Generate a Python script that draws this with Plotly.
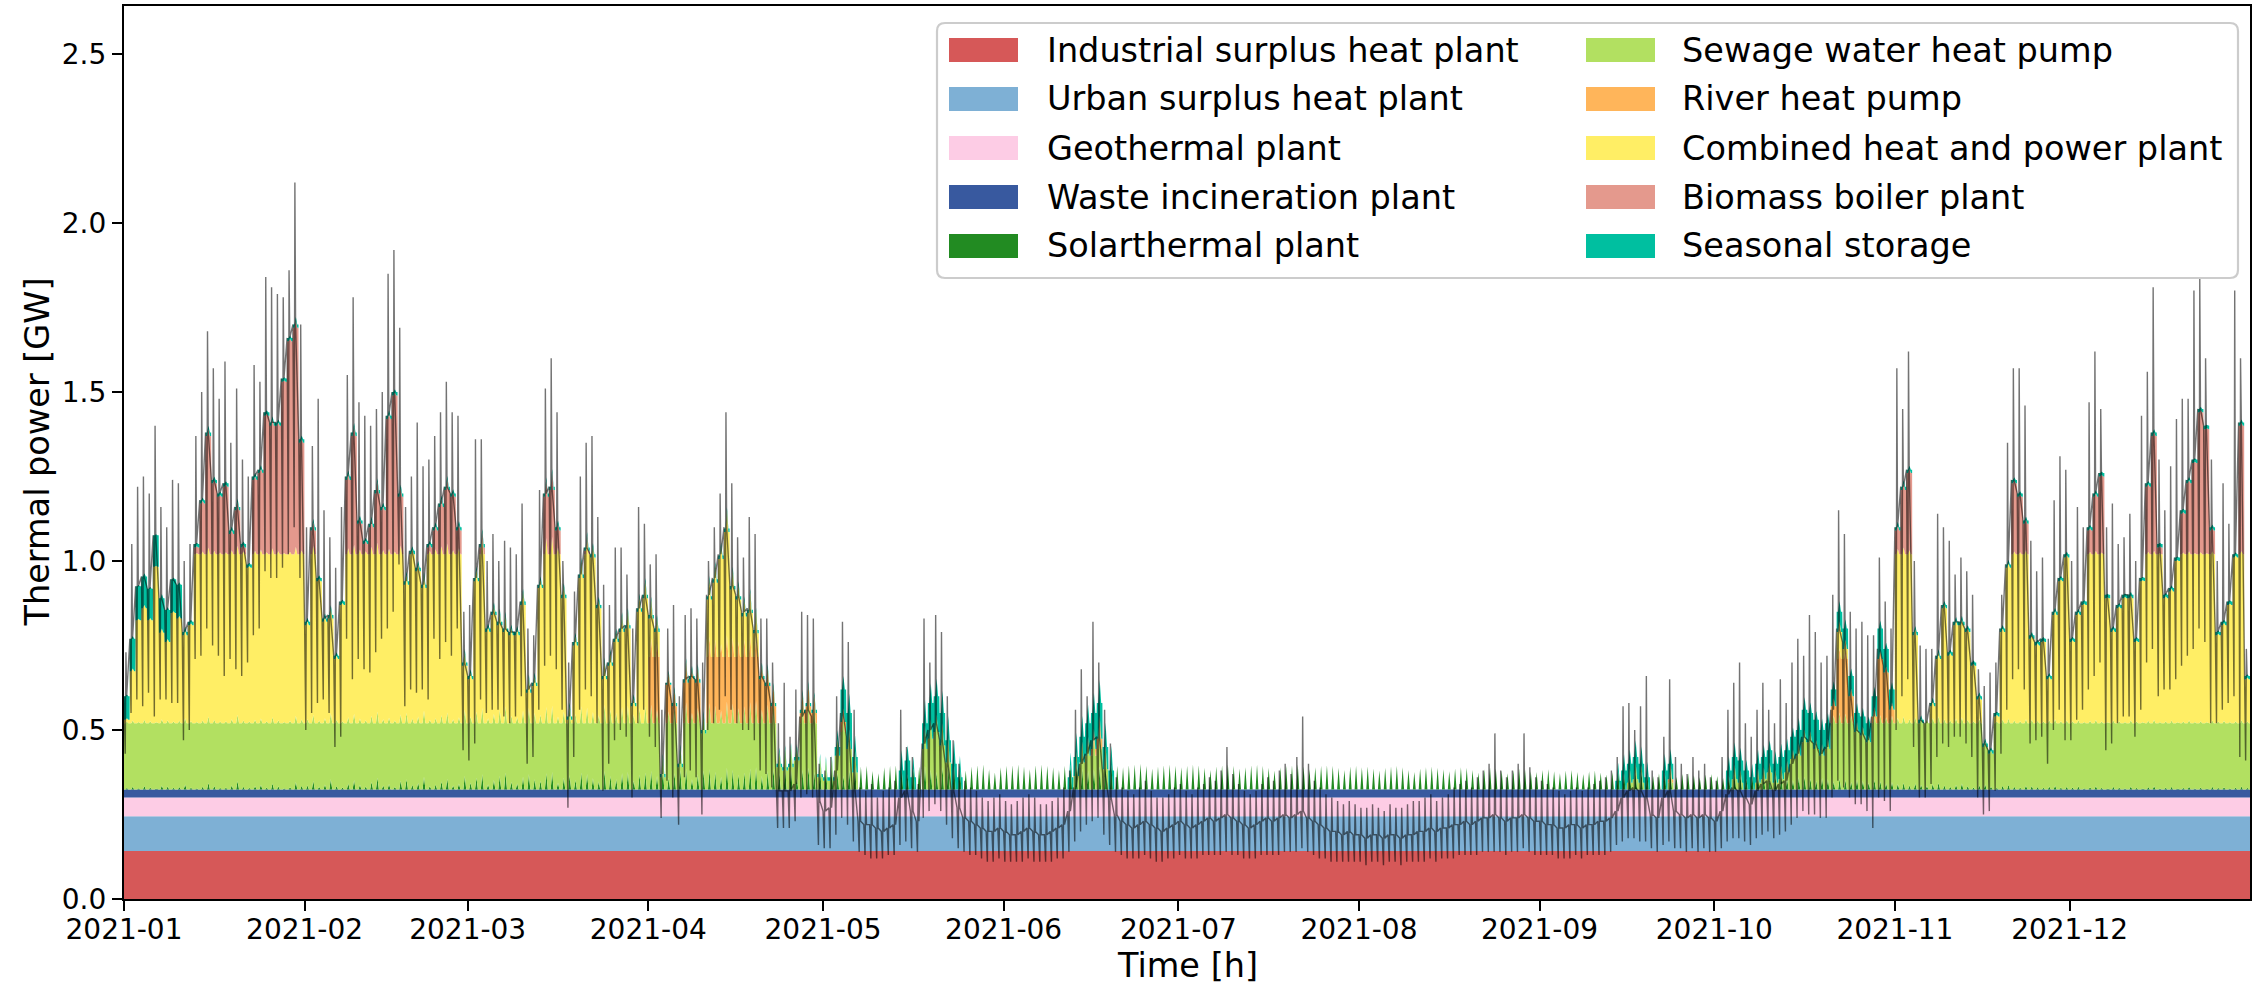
import numpy as np
import pandas as pd
import plotly.graph_objects as go

# ---------------------------------------------------------------------------
# Heat supply of the district heating system, 2021 (values in MW).
# Daily lists run from 1 January to 31 December (365 entries, one row per month).
# ---------------------------------------------------------------------------

# must-run units with a flat output all year
industrial_mw = 142
urban_mw = 103
geothermal_mw = 55
waste_mw = 24

# solarthermal output at solar noon
solar_noon_mw = [
    5, 8, 4, 10, 6, 3, 12, 9, 5, 7, 15, 6, 4, 8, 20, 10, 5, 6, 12, 25, 8, 5, 10, 14, 6, 18, 9, 4, 7, 22, 11,
    12, 25, 8, 15, 30, 10, 6, 18, 28, 14, 9, 22, 35, 12, 16, 8, 26, 30, 14, 20, 38, 10, 15, 24, 32, 12, 18, 40,
    20, 35, 45, 15, 28, 40, 50, 22, 18, 38, 45, 30, 25, 48, 52, 20, 35, 42, 28, 50, 46, 33, 24, 55, 40, 30, 48, 52, 26, 44, 50,
    55, 40, 60, 35, 48, 58, 62, 30, 45, 56, 60, 52, 38, 64, 58, 44, 50, 62, 66, 40, 55, 60, 48, 65, 62, 36, 58, 64, 52, 60,
    62, 66, 50, 40, 58, 64, 68, 70, 55, 48, 66, 70, 72, 60, 45, 62, 68, 70, 58, 52, 66, 72, 70, 64, 56, 68, 72, 74, 60, 50, 66,
    70, 72, 74, 68, 60, 72, 74, 70, 66, 58, 70, 74, 72, 62, 55, 60, 68, 72, 74, 70, 66, 72, 74, 76, 70, 62, 68, 72, 74, 70,
    66, 70, 74, 72, 64, 58, 68, 72, 74, 70, 62, 66, 72, 74, 70, 64, 56, 66, 70, 72, 74, 68, 60, 66, 70, 72, 70, 64, 58, 68, 70,
    66, 68, 62, 56, 64, 68, 70, 66, 58, 52, 62, 66, 68, 64, 60, 54, 62, 66, 64, 58, 50, 60, 64, 62, 56, 48, 58, 62, 60, 54, 52,
    58, 60, 54, 48, 56, 58, 52, 46, 54, 56, 50, 44, 52, 54, 48, 42, 50, 52, 46, 40, 48, 50, 44, 38, 46, 48, 42, 36, 44, 46,
    40, 34, 42, 44, 38, 32, 40, 42, 36, 30, 38, 40, 34, 28, 36, 38, 32, 26, 34, 30, 24, 32, 28, 22, 30, 26, 20, 28, 24, 18, 22,
    16, 20, 12, 18, 14, 10, 16, 20, 12, 8, 14, 18, 10, 6, 12, 15, 9, 5, 11, 14, 8, 6, 12, 10, 7, 5, 9, 12, 6, 8,
    6, 9, 4, 7, 10, 5, 3, 8, 6, 4, 9, 5, 3, 7, 10, 4, 6, 8, 3, 5, 9, 4, 6, 3, 8, 5, 7, 4, 6, 9, 5,
]

sewage_mw = [
    196, 196, 196, 196, 196, 196, 196, 196, 196, 196, 196, 196, 196, 196, 196, 196, 196, 196, 196, 196, 196, 196, 196, 196, 196, 196, 196, 196, 196, 196, 196,
    196, 196, 196, 196, 196, 196, 196, 196, 196, 196, 196, 196, 196, 196, 196, 196, 196, 196, 196, 196, 196, 196, 196, 196, 196, 196, 196, 196,
    196, 196, 196, 196, 196, 196, 196, 196, 196, 196, 196, 196, 196, 196, 196, 196, 196, 196, 196, 196, 196, 196, 196, 196, 196, 196, 196, 196, 196, 196, 196,
    196, 196, 36, 196, 196, 66, 196, 196, 196, 166, 196, 196, 196, 196, 196, 196, 196, 196, 196, 196, 196, 196, 66, 56, 66, 86, 196, 196, 196, 36,
    26, 26, 100, 170, 120, 50, 0, 0, 0, 0, 0, 0, 0, 0, 0, 0, 0, 120, 150, 170, 130, 80, 0, 0, 0, 0, 0, 0, 0, 0, 0,
    0, 0, 0, 0, 0, 0, 0, 0, 0, 0, 0, 0, 40, 80, 100, 100, 120, 60, 0, 0, 0, 0, 0, 0, 0, 0, 0, 0, 0, 0,
    0, 0, 0, 0, 0, 0, 0, 0, 0, 0, 0, 0, 0, 0, 0, 0, 0, 0, 0, 0, 0, 0, 0, 0, 0, 0, 0, 0, 0, 0, 0,
    0, 0, 0, 0, 0, 0, 0, 0, 0, 0, 0, 0, 0, 0, 0, 0, 0, 0, 0, 0, 0, 0, 0, 0, 0, 0, 0, 0, 0, 0, 0,
    0, 0, 0, 0, 0, 0, 0, 0, 0, 0, 0, 0, 0, 0, 0, 20, 30, 20, 0, 0, 0, 0, 20, 0, 0, 0, 0, 0, 0, 0,
    0, 0, 0, 30, 20, 0, 0, 20, 30, 50, 20, 30, 50, 90, 100, 140, 140, 120, 100, 120, 196, 196, 196, 196, 170, 160, 140, 196, 196, 196, 196,
    196, 196, 196, 196, 196, 196, 196, 196, 196, 196, 196, 196, 196, 196, 196, 126, 106, 196, 196, 196, 196, 196, 196, 196, 196, 196, 196, 196, 196, 196,
    196, 196, 196, 196, 196, 196, 196, 196, 196, 196, 196, 196, 196, 196, 196, 196, 196, 196, 196, 196, 196, 196, 196, 196, 196, 196, 196, 196, 196, 196, 196,
]

river_mw = [
    0, 0, 0, 0, 0, 0, 0, 0, 0, 0, 0, 0, 0, 0, 0, 0, 0, 0, 0, 0, 0, 0, 0, 0, 0, 0, 0, 0, 0, 0, 0,
    0, 0, 0, 0, 0, 0, 0, 0, 0, 0, 0, 0, 0, 0, 0, 0, 0, 0, 0, 0, 0, 0, 0, 0, 0, 0, 0, 0,
    0, 0, 0, 0, 0, 0, 0, 0, 0, 0, 0, 0, 0, 0, 0, 0, 0, 0, 0, 0, 0, 0, 0, 0, 0, 0, 0, 0, 0, 0, 0,
    196, 196, 0, 114, 50, 0, 120, 130, 120, 0, 196, 196, 196, 196, 196, 196, 196, 196, 196, 130, 110, 50, 0, 0, 0, 0, 30, 50, 30, 0,
    0, 0, 0, 30, 0, 0, 0, 0, 0, 0, 0, 0, 0, 0, 0, 0, 0, 0, 0, 0, 0, 0, 0, 0, 0, 0, 0, 0, 0, 0, 0,
    0, 0, 0, 0, 0, 0, 0, 0, 0, 0, 0, 0, 0, 0, 0, 20, 30, 0, 0, 0, 0, 0, 0, 0, 0, 0, 0, 0, 0, 0,
    0, 0, 0, 0, 0, 0, 0, 0, 0, 0, 0, 0, 0, 0, 0, 0, 0, 0, 0, 0, 0, 0, 0, 0, 0, 0, 0, 0, 0, 0, 0,
    0, 0, 0, 0, 0, 0, 0, 0, 0, 0, 0, 0, 0, 0, 0, 0, 0, 0, 0, 0, 0, 0, 0, 0, 0, 0, 0, 0, 0, 0, 0,
    0, 0, 0, 0, 0, 0, 0, 0, 0, 0, 0, 0, 0, 0, 0, 0, 0, 0, 0, 0, 0, 0, 10, 0, 0, 0, 0, 0, 0, 0,
    0, 0, 0, 0, 0, 0, 0, 0, 0, 0, 0, 0, 0, 0, 0, 0, 0, 0, 0, 0, 50, 190, 190, 80, 0, 0, 0, 20, 190, 150, 40,
    0, 0, 0, 0, 0, 0, 0, 0, 0, 0, 0, 0, 0, 0, 0, 0, 0, 0, 0, 0, 0, 0, 0, 0, 0, 0, 0, 0, 0, 0,
    0, 0, 0, 0, 0, 0, 0, 0, 0, 0, 0, 0, 0, 0, 0, 0, 0, 0, 0, 0, 0, 0, 0, 0, 0, 0, 0, 0, 0, 0, 0,
]

chp_mw = [
    10, 154, 305, 340, 305, 463, 268, 240, 326, 310, 260, 290, 500, 500, 500, 500, 500, 500, 500, 500, 500, 460, 500, 500, 500, 500, 500, 500, 500, 500, 500,
    290, 500, 420, 300, 310, 190, 350, 500, 500, 500, 500, 500, 500, 500, 500, 500, 500, 410, 500, 450, 400, 500, 500, 500, 500, 500, 500, 170,
    130, 420, 500, 270, 320, 290, 270, 260, 260, 350, 90, 110, 400, 500, 500, 500, 370, 10, 230, 430, 500, 490, 340, 130, 170, 240, 270, 280, 50, 330, 370,
    114, 74, 0, 0, 0, 0, 0, 0, 0, 0, 170, 220, 290, 370, 200, 170, 120, 130, 70, 0, 0, 0, 0, 0, 0, 0, 0, 0, 0, 0,
    0, 0, 0, 0, 0, 0, 0, 0, 0, 0, 0, 0, 0, 0, 0, 0, 0, 0, 0, 0, 0, 0, 0, 0, 0, 0, 0, 0, 0, 0, 0,
    0, 0, 0, 0, 0, 0, 0, 0, 0, 0, 0, 0, 0, 0, 0, 0, 0, 0, 0, 0, 0, 0, 0, 0, 0, 0, 0, 0, 0, 0,
    0, 0, 0, 0, 0, 0, 0, 0, 0, 0, 0, 0, 0, 0, 0, 0, 0, 0, 0, 0, 0, 0, 0, 0, 0, 0, 0, 0, 0, 0, 0,
    0, 0, 0, 0, 0, 0, 0, 0, 0, 0, 0, 0, 0, 0, 0, 0, 0, 0, 0, 0, 0, 0, 0, 0, 0, 0, 0, 0, 0, 0, 0,
    0, 0, 0, 0, 0, 0, 0, 0, 0, 0, 0, 0, 0, 0, 0, 0, 0, 0, 0, 0, 0, 0, 0, 0, 0, 0, 0, 0, 0, 0,
    0, 0, 0, 0, 0, 0, 0, 0, 0, 0, 0, 0, 0, 0, 0, 0, 0, 0, 0, 0, 0, 80, 30, 0, 0, 0, 0, 0, 0, 0, 0,
    500, 500, 500, 260, 0, 0, 50, 190, 340, 200, 290, 290, 270, 170, 70, 0, 0, 20, 270, 460, 500, 500, 500, 250, 230, 240, 130, 320, 420, 490,
    240, 320, 350, 500, 500, 500, 370, 270, 340, 370, 370, 240, 420, 500, 500, 500, 370, 390, 480, 500, 500, 500, 500, 500, 500, 260, 290, 350, 490, 500, 130,
]

biomass_mw = [
    0, 0, 0, 0, 0, 0, 0, 0, 0, 0, 0, 0, 20, 150, 350, 210, 170, 200, 60, 130, 20, 0, 220, 240, 410, 380, 380, 510, 630, 670, 330,
    0, 70, 0, 0, 0, 0, 0, 220, 350, 90, 30, 80, 180, 130, 400, 470, 170, 0, 0, 0, 0, 20, 70, 140, 190, 170, 70, 0,
    0, 0, 20, 0, 0, 0, 0, 0, 0, 0, 0, 0, 0, 170, 190, 70, 0, 0, 0, 0, 10, 0, 0, 0, 0, 0, 0, 0, 0, 0, 0,
    0, 0, 0, 0, 0, 0, 0, 0, 0, 0, 0, 0, 0, 0, 0, 0, 0, 0, 0, 0, 0, 0, 0, 0, 0, 0, 0, 0, 0, 0,
    0, 0, 0, 0, 0, 0, 0, 0, 0, 0, 0, 0, 0, 0, 0, 0, 0, 0, 0, 0, 0, 0, 0, 0, 0, 0, 0, 0, 0, 0, 0,
    0, 0, 0, 0, 0, 0, 0, 0, 0, 0, 0, 0, 0, 0, 0, 0, 0, 0, 0, 0, 0, 0, 0, 0, 0, 0, 0, 0, 0, 0,
    0, 0, 0, 0, 0, 0, 0, 0, 0, 0, 0, 0, 0, 0, 0, 0, 0, 0, 0, 0, 0, 0, 0, 0, 0, 0, 0, 0, 0, 0, 0,
    0, 0, 0, 0, 0, 0, 0, 0, 0, 0, 0, 0, 0, 0, 0, 0, 0, 0, 0, 0, 0, 0, 0, 0, 0, 0, 0, 0, 0, 0, 0,
    0, 0, 0, 0, 0, 0, 0, 0, 0, 0, 0, 0, 0, 0, 0, 0, 0, 0, 0, 0, 0, 0, 0, 0, 0, 0, 0, 0, 0, 0,
    0, 0, 0, 0, 0, 0, 0, 0, 0, 0, 0, 0, 0, 0, 0, 0, 0, 0, 0, 0, 0, 0, 0, 0, 0, 0, 0, 0, 0, 0, 0,
    70, 190, 240, 0, 0, 0, 0, 0, 0, 0, 0, 0, 0, 0, 0, 0, 0, 0, 0, 0, 210, 170, 90, 0, 0, 0, 0, 0, 0, 0,
    0, 0, 0, 70, 170, 230, 0, 0, 0, 0, 0, 0, 0, 200, 350, 20, 0, 0, 0, 120, 210, 270, 420, 370, 70, 0, 0, 0, 0, 380, 0,
]

storage_mw = [
    70, 96, 100, 94, 93, 93, 102, 95, 100, 100, 10, 10, 10, 10, 10, 10, 10, 10, 10, 10, 10, 10, 10, 10, 10, 10, 10, 10, 10, 10, 10,
    10, 10, 10, 10, 10, 10, 10, 10, 10, 10, 10, 10, 10, 10, 10, 10, 10, 10, 10, 10, 10, 10, 10, 10, 10, 10, 10, 10,
    10, 10, 10, 10, 10, 10, 10, 10, 10, 10, 10, 10, 10, 10, 10, 10, 10, 10, 10, 10, 10, 10, 10, 10, 10, 10, 10, 10, 10, 10, 10,
    10, 10, 10, 6, 10, 10, 10, 10, 10, 10, 10, 10, 10, 10, 10, 10, 10, 10, 10, 10, 10, 10, 10, 10, 10, 10, 10, 10, 10, 10,
    10, 10, 26, 96, 106, 46, 0, 0, 0, 0, 0, 0, 0, 56, 86, 36, 0, 76, 106, 106, 96, 66, 76, 36, 0, 0, 0, 0, 0, 0, 0,
    0, 0, 0, 0, 0, 0, 0, 0, 0, 0, 0, 36, 56, 76, 96, 106, 106, 66, 56, 0, 0, 0, 0, 0, 0, 0, 0, 0, 0, 0,
    0, 0, 0, 0, 0, 0, 0, 0, 0, 0, 0, 0, 0, 0, 0, 0, 0, 0, 0, 0, 0, 0, 0, 0, 0, 0, 0, 0, 0, 0, 0,
    0, 0, 0, 0, 0, 0, 0, 0, 0, 0, 0, 0, 0, 0, 0, 0, 0, 0, 0, 0, 0, 0, 0, 0, 0, 0, 0, 0, 0, 0, 0,
    0, 0, 0, 0, 0, 0, 0, 0, 0, 0, 0, 0, 0, 26, 56, 56, 66, 56, 36, 0, 0, 56, 46, 0, 0, 0, 0, 0, 0, 0,
    0, 0, 56, 66, 66, 56, 36, 56, 66, 66, 56, 66, 66, 66, 76, 96, 86, 86, 76, 76, 50, 60, 60, 60, 56, 56, 56, 60, 90, 70, 60,
    10, 10, 10, 10, 10, 0, 10, 10, 10, 10, 10, 10, 10, 10, 10, 10, 10, 10, 10, 10, 10, 10, 10, 10, 10, 10, 10, 10, 10, 10,
    10, 10, 10, 10, 10, 10, 10, 10, 10, 10, 10, 10, 10, 10, 10, 10, 10, 10, 10, 10, 10, 10, 10, 10, 10, 10, 10, 10, 10, 10, 10,
]

# heat demand: typical level of the day, daily peak and daily trough
demand_mid_mw = [
    600, 770, 925, 954, 918, 1076, 890, 855, 946, 930, 790, 820, 1050, 1180, 1380, 1240, 1200, 1230, 1090, 1160, 1050, 990, 1250, 1270, 1440, 1410, 1410, 1540, 1660, 1700, 1360,
    820, 1100, 950, 830, 840, 720, 880, 1250, 1380, 1120, 1060, 1110, 1210, 1160, 1430, 1500, 1200, 940, 1030, 980, 930, 1050, 1100, 1170, 1220, 1200, 1100, 700,
    660, 950, 1050, 800, 850, 820, 800, 790, 790, 880, 620, 640, 930, 1200, 1220, 1100, 900, 540, 760, 960, 1040, 1020, 870, 660, 700, 770, 800, 810, 580, 860, 900,
    840, 800, 370, 640, 580, 400, 650, 660, 650, 500, 900, 950, 1020, 1100, 930, 900, 850, 860, 800, 660, 640, 580, 320, 320, 320, 340, 540, 560, 540, 290,
    260, 270, 380, 550, 480, 330, 230, 220, 220, 210, 200, 210, 220, 300, 320, 260, 230, 460, 500, 520, 470, 400, 320, 270, 240, 230, 220, 210, 200, 200, 210,
    200, 190, 190, 200, 210, 200, 190, 190, 200, 210, 220, 260, 330, 400, 430, 470, 480, 370, 300, 250, 230, 220, 210, 220, 230, 220, 210, 200, 210, 220,
    230, 220, 210, 220, 230, 240, 230, 240, 250, 240, 230, 220, 210, 220, 230, 240, 230, 240, 250, 240, 250, 260, 240, 230, 220, 210, 200, 200, 190, 200, 190,
    190, 180, 190, 190, 180, 190, 190, 180, 190, 190, 200, 200, 210, 200, 210, 210, 220, 220, 230, 220, 230, 240, 240, 250, 240, 230, 240, 240, 250, 240, 230,
    230, 220, 220, 210, 210, 220, 220, 210, 220, 220, 230, 230, 240, 260, 300, 320, 330, 320, 300, 250, 240, 300, 320, 260, 250, 240, 250, 240, 250, 240,
    230, 260, 310, 330, 320, 300, 280, 320, 340, 350, 320, 340, 350, 400, 430, 480, 470, 460, 430, 450, 560, 800, 760, 600, 500, 490, 470, 540, 740, 690, 570,
    1100, 1220, 1270, 790, 530, 520, 580, 720, 870, 730, 820, 820, 800, 700, 600, 460, 440, 550, 800, 990, 1240, 1200, 1120, 780, 760, 770, 660, 850, 950, 1020,
    770, 850, 880, 1100, 1200, 1260, 900, 800, 870, 900, 900, 770, 950, 1230, 1380, 1050, 900, 920, 1010, 1150, 1240, 1300, 1450, 1400, 1100, 790, 820, 880, 1020, 1410, 660,
]

demand_high_mw = [
    730, 1050, 1220, 1250, 1200, 1400, 1160, 1100, 1240, 1230, 1000, 1050, 1370, 1500, 1680, 1570, 1480, 1590, 1350, 1510, 1300, 1250, 1580, 1530, 1840, 1810, 1790, 1780, 1860, 2120, 1700,
    1100, 1340, 1480, 1150, 1070, 980, 1160, 1550, 1780, 1470, 1430, 1400, 1450, 1500, 1850, 1920, 1690, 1160, 1250, 1410, 1280, 1300, 1370, 1440, 1530, 1440, 1430, 850,
    870, 1360, 1360, 1000, 1080, 1000, 1060, 1040, 1020, 1170, 800, 780, 1210, 1510, 1600, 1440, 1000, 700, 910, 1250, 1350, 1370, 1130, 930, 870, 1040, 1040, 960, 800, 1160, 1110,
    990, 1020, 560, 800, 870, 600, 840, 860, 830, 700, 1000, 1100, 1200, 1440, 1230, 1070, 1010, 1130, 1080, 830, 830, 700, 520, 640, 480, 620, 850, 840, 830, 400,
    380, 420, 600, 820, 760, 560, 330, 320, 340, 300, 320, 330, 350, 560, 450, 420, 340, 830, 700, 840, 790, 600, 470, 400, 350, 330, 320, 300, 290, 300, 310,
    290, 280, 290, 300, 310, 300, 280, 280, 290, 300, 330, 380, 560, 680, 600, 820, 700, 560, 460, 360, 330, 320, 310, 330, 350, 320, 300, 300, 310, 330,
    340, 320, 310, 330, 340, 360, 350, 380, 450, 370, 340, 320, 310, 320, 340, 360, 350, 380, 400, 370, 420, 540, 400, 350, 330, 310, 300, 290, 280, 290, 280,
    270, 270, 280, 270, 260, 280, 270, 270, 280, 290, 290, 300, 310, 290, 300, 310, 330, 340, 350, 330, 360, 380, 400, 490, 380, 360, 380, 400, 490, 390, 360,
    350, 340, 330, 320, 310, 320, 330, 320, 330, 340, 350, 360, 380, 420, 570, 580, 500, 570, 660, 380, 360, 480, 650, 420, 400, 370, 420, 380, 400, 360,
    350, 420, 560, 640, 700, 520, 480, 560, 640, 560, 520, 650, 580, 700, 770, 720, 840, 790, 700, 720, 900, 1150, 1080, 850, 800, 820, 780, 780, 1010, 880, 800,
    1570, 1450, 1620, 1000, 750, 740, 740, 1140, 1100, 1060, 960, 1010, 970, 900, 680, 630, 670, 700, 900, 1350, 1570, 1570, 1460, 1060, 970, 1010, 770, 1180, 1310, 1270,
    1000, 1160, 1100, 1470, 1620, 1450, 1100, 1170, 1050, 1070, 1140, 1000, 1430, 1560, 1810, 1300, 1150, 1280, 1420, 1480, 1480, 1800, 1840, 1600, 1300, 1000, 1230, 1110, 1800, 1600, 740,
]

demand_low_mw = [
    430, 550, 590, 570, 610, 540, 590, 590, 580, 580, 470, 500, 710, 720, 800, 750, 720, 660, 710, 680, 660, 700, 780, 800, 970, 950, 950, 980, 1020, 1100, 950,
    500, 550, 580, 590, 550, 450, 480, 770, 650, 710, 680, 670, 730, 770, 800, 850, 990, 570, 620, 610, 620, 590, 770, 710, 760, 720, 800, 440,
    410, 460, 590, 550, 560, 560, 540, 520, 540, 600, 400, 420, 560, 690, 720, 680, 560, 270, 420, 560, 620, 600, 520, 320, 400, 470, 500, 480, 300, 520, 560,
    480, 450, 240, 350, 300, 220, 360, 380, 360, 250, 500, 520, 560, 600, 560, 520, 500, 500, 470, 380, 370, 330, 210, 210, 210, 230, 300, 310, 300, 160,
    150, 150, 190, 240, 220, 170, 140, 130, 120, 120, 120, 130, 130, 160, 170, 150, 140, 240, 260, 280, 260, 220, 180, 150, 140, 130, 130, 120, 110, 110, 120,
    110, 110, 110, 110, 120, 110, 110, 110, 110, 120, 120, 140, 170, 200, 220, 230, 240, 190, 160, 140, 130, 120, 120, 120, 130, 120, 110, 110, 120, 120,
    130, 120, 120, 120, 130, 130, 130, 130, 140, 130, 130, 120, 120, 120, 130, 130, 130, 130, 140, 140, 140, 150, 140, 130, 120, 120, 110, 110, 110, 110, 110,
    110, 100, 110, 110, 100, 110, 110, 100, 110, 110, 110, 110, 120, 110, 120, 120, 120, 130, 130, 130, 130, 140, 140, 140, 140, 130, 140, 140, 150, 140, 130,
    130, 130, 130, 120, 120, 120, 130, 120, 130, 130, 130, 130, 140, 160, 170, 180, 180, 170, 170, 150, 140, 160, 170, 150, 150, 140, 150, 140, 150, 140,
    140, 150, 170, 180, 180, 170, 160, 180, 190, 200, 180, 190, 200, 220, 240, 260, 250, 250, 240, 240, 300, 350, 330, 300, 280, 280, 260, 210, 300, 290, 260,
    500, 600, 650, 450, 300, 300, 340, 420, 460, 450, 480, 480, 460, 420, 300, 250, 260, 320, 430, 560, 650, 680, 620, 460, 470, 480, 400, 500, 560, 470,
    470, 530, 560, 620, 660, 700, 440, 460, 520, 540, 540, 480, 560, 700, 740, 600, 620, 620, 650, 690, 720, 740, 800, 760, 520, 520, 560, 580, 600, 420, 410,
]

plant_names = [
    "Industrial surplus heat plant", "Urban surplus heat plant", "Geothermal plant",
    "Waste incineration plant", "Solarthermal plant", "Sewage water heat pump",
    "River heat pump", "Combined heat and power plant", "Biomass boiler plant",
    "Seasonal storage",
]
plant_colors = [
    "#d65858", "#7eb0d5", "#fdcce5", "#38599f", "#228b22",
    "#b2e061", "#ffb55a", "#ffee65", "#e4998d", "#00bfa0",
]

N_DAYS = 365
for _name, _lst in [("solar", solar_noon_mw), ("sewage", sewage_mw), ("river", river_mw),
                    ("chp", chp_mw), ("biomass", biomass_mw), ("storage", storage_mw),
                    ("mid", demand_mid_mw), ("high", demand_high_mw), ("low", demand_low_mw)]:
    assert len(_lst) == N_DAYS, f"{_name}: {len(_lst)}"

# ---------------------------------------------------------------------------
# time axes
# ---------------------------------------------------------------------------
days = pd.date_range("2021-01-01", periods=N_DAYS, freq="D").values

# generation: night, morning, noon, evening, late evening of every day
gen_hours = np.array([0, 6, 12, 18, 23], dtype="timedelta64[h]")
gen_time = (days[:, None] + gen_hours[None, :]).ravel()

def per_day(values_mw):
    """Hold a daily value over all sampling points of that day (GW)."""
    return np.repeat(np.asarray(values_mw, dtype=float) / 1000.0, len(gen_hours))

def flat(value_mw):
    return np.full(N_DAYS * len(gen_hours), value_mw / 1000.0)

solar = np.zeros((N_DAYS, len(gen_hours)))
solar[:, 2] = np.asarray(solar_noon_mw) / 1000.0

layers = [
    flat(industrial_mw), flat(urban_mw), flat(geothermal_mw), flat(waste_mw),
    solar.ravel(), per_day(sewage_mw), per_day(river_mw), per_day(chp_mw),
    per_day(biomass_mw), per_day(storage_mw),
]

# demand: level at midnight, trough early morning, peak after it, back to level
dem_hours = np.array([0, 5, 8, 11], dtype="timedelta64[h]")
dem_time = (days[:, None] + dem_hours[None, :]).ravel()
mid = np.asarray(demand_mid_mw) / 1000.0
hi = np.asarray(demand_high_mw) / 1000.0
lo = np.asarray(demand_low_mw) / 1000.0
demand = np.column_stack([mid, lo, hi, mid]).ravel()

# ---------------------------------------------------------------------------
# figure
# ---------------------------------------------------------------------------
FONT = "DejaVu Sans"
W, H = 2260, 984
ML, MR, MT, MB = 124, 10, 6, 85
PW, PH = W - ML - MR, H - MT - MB

fig = go.Figure()
for name, color, y in zip(plant_names, plant_colors, layers):
    fig.add_trace(go.Scatter(
        x=gen_time, y=y, name=name, stackgroup="supply", mode="lines",
        line=dict(width=0, color=color), fillcolor=color,
        showlegend=False, hoverinfo="skip",
    ))

fig.add_trace(go.Scatter(
    x=dem_time, y=demand, name="Heat demand", mode="lines",
    line=dict(color="rgba(0,0,0,0.55)", width=1.4),
    showlegend=False, hoverinfo="skip",
))

def fx(px):
    return (px - ML) / PW

def fy(py):
    return (H - MB - py) / PH

# legend box (two columns, five rows)
box_l, box_r, box_t, box_b, rad = 937, 2238, 23, 278, 8
x0, x1, yt, yb = fx(box_l), fx(box_r), fy(box_t), fy(box_b)
rx, ry = rad / PW, rad / PH
box_path = (
    f"M {x0 + rx},{yt} L {x1 - rx},{yt} Q {x1},{yt} {x1},{yt - ry} "
    f"L {x1},{yb + ry} Q {x1},{yb} {x1 - rx},{yb} "
    f"L {x0 + rx},{yb} Q {x0},{yb} {x0},{yb + ry} "
    f"L {x0},{yt - ry} Q {x0},{yt} {x0 + rx},{yt} Z"
)
shapes = [dict(type="path", path=box_path, xref="paper", yref="paper",
               fillcolor="rgba(255,255,255,0.8)", line=dict(color="#cccccc", width=2.2),
               layer="above")]
annotations = []
col_patch_x = [949, 1586]
col_text_x = [1045, 1680]
row_y = [50, 99, 148, 197, 246]
patch_w, patch_h = 69, 24
for i, (name, color) in enumerate(zip(plant_names, plant_colors)):
    col, row = divmod(i, 5)
    px, py = col_patch_x[col], row_y[row]
    shapes.append(dict(type="rect", xref="paper", yref="paper",
                       x0=fx(px), x1=fx(px + patch_w),
                       y0=fy(py + patch_h / 2), y1=fy(py - patch_h / 2),
                       fillcolor=color, line=dict(width=0), layer="above"))
    annotations.append(dict(text=name, x=fx(col_text_x[col]), y=fy(py),
                            xref="paper", yref="paper", xanchor="left", yanchor="middle",
                            showarrow=False, font=dict(family=FONT, size=33.5, color="black")))

# axis titles
annotations.append(dict(text="Thermal power [GW]", x=fx(37), y=0.5, xref="paper", yref="paper",
                        textangle=-90, xanchor="center", yanchor="middle", showarrow=False,
                        font=dict(family=FONT, size=33.5, color="black")))
annotations.append(dict(text="Time [h]", x=0.5, y=fy(965), xref="paper", yref="paper",
                        xanchor="center", yanchor="middle", showarrow=False,
                        font=dict(family=FONT, size=33.5, color="black")))

axis_common = dict(
    showline=True, linecolor="black", linewidth=2.2, mirror=True,
    ticks="outside", ticklen=10, tickwidth=2.2, tickcolor="black",
    showgrid=False, zeroline=False,
    tickfont=dict(family=FONT, size=28, color="black"),
)

fig.update_layout(
    width=W, height=H,
    margin=dict(l=ML, r=MR, t=MT, b=MB, autoexpand=False),
    paper_bgcolor="white", plot_bgcolor="white",
    showlegend=False,
    font=dict(family=FONT, color="black"),
    shapes=shapes, annotations=annotations,
    xaxis=dict(type="date", range=["2021-01-01 00:00", "2021-12-31 23:00"],
               tickformat="%Y-%m", dtick="M1", tick0="2021-01-01",
               ticklabelstandoff=-6, **axis_common),
    yaxis=dict(range=[0, 2.642], dtick=0.5, tick0=0, tickformat=".1f", **axis_common),
)

fig.write_html("out.html")
